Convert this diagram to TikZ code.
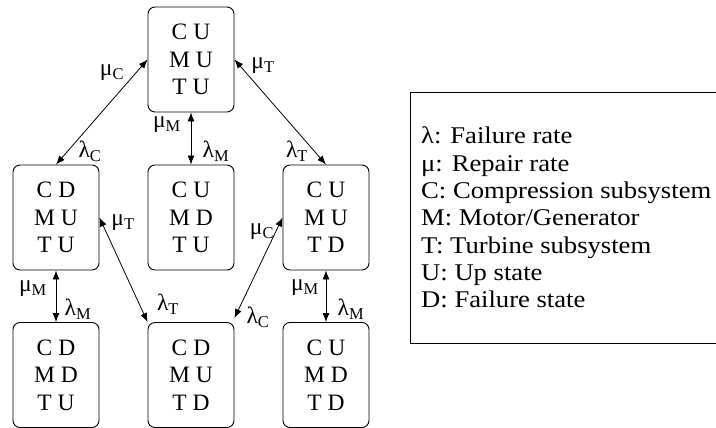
\documentclass[tikz,border=0pt]{standalone}
\usepackage{fontspec}
\setmainfont{Liberation Serif}
\newfontfamily\legendfont[FakeStretch=1.11]{Liberation Serif}
\usetikzlibrary{arrows.meta}
\newcommand{\failrate}[1]{λ\textsubscript{#1}}
\newcommand{\reprate}[1]{μ\textsubscript{#1}}
\begin{document}
\begin{tikzpicture}[x=1pt,y=-1pt,
  every node/.style={font=\fontsize{23.5}{27.5}\selectfont},
  statebox/.style={draw,line width=0.9pt,rounded corners=7pt,minimum width=86pt,
    minimum height=105pt,align=center,inner sep=0pt},
  trans/.style={line width=0.8pt,{Latex[length=9pt,width=7pt]}-{Latex[length=9pt,width=7pt]}},
  rate/.style={inner sep=0pt}]
\useasboundingbox (0,0) rectangle (716,428);

% states of the three subsystems
\node[statebox] (top) at (191,59.5) {C U\\M U\\T U};
\node[statebox] (l1) at (56,217.5) {C D\\M U\\T U};
\node[statebox] (c1) at (191,217.5) {C U\\M D\\T U};
\node[statebox] (r1) at (326,217.5) {C U\\M U\\T D};
\node[statebox] (l2) at (56,375) {C D\\M D\\T U};
\node[statebox] (c2) at (191,375) {C D\\M U\\T D};
\node[statebox] (r2) at (326,375) {C U\\M D\\T D};

% transitions
\draw[trans] (top.west) -- (l1.north);
\draw[trans] (top.east) -- (r1.north);
\draw[trans] (top.south) -- (c1.north);
\draw[trans] (l1.east) -- (c2.north west);
\draw[trans] (r1.west) -- ([yshift=4pt]c2.north east);
\draw[trans] (l1.south) -- (l2.north);
\draw[trans] (r1.south) -- (r2.north);

% rates
\node[rate] (muc1) at (112,73) {\reprate{C}};
\node[rate] (lac1) at (90,151) {\failrate{C}};
\node[rate] (mum1) at (167,125) {\reprate{M}};
\node[rate] (lam1) at (216,151) {\failrate{M}};
\node[rate] (lat1) at (297,151) {\failrate{T}};
\node[rate] (mut1) at (263,66) {\reprate{T}};
\node[rate] (mut2) at (123,223) {\reprate{T}};
\node[rate] (muc2) at (262,232) {\reprate{C}};
\node[rate] (lat2) at (168,304) {\failrate{T}};
\node[rate] (lac2) at (258,317) {\failrate{C}};
\node[rate] (mum2) at (33,289) {\reprate{M}};
\node[rate] (lam2) at (78,309) {\failrate{M}};
\node[rate] (mum3) at (305,288) {\reprate{M}};
\node[rate] (lam3) at (351,309) {\failrate{M}};

% legend
\draw[line width=0.9pt] (410,92) rectangle (740,343);
\node[anchor=north west,align=left,inner sep=0pt,
  font=\legendfont\fontsize{24}{27.4}\selectfont] (legend) at (421,126.5)
  {λ: Failure rate\\μ: Repair rate\\C: Compression subsystem\\M: Motor/Generator\\T: Turbine subsystem\\U: Up state\\D: Failure state};
\end{tikzpicture}
\end{document}
